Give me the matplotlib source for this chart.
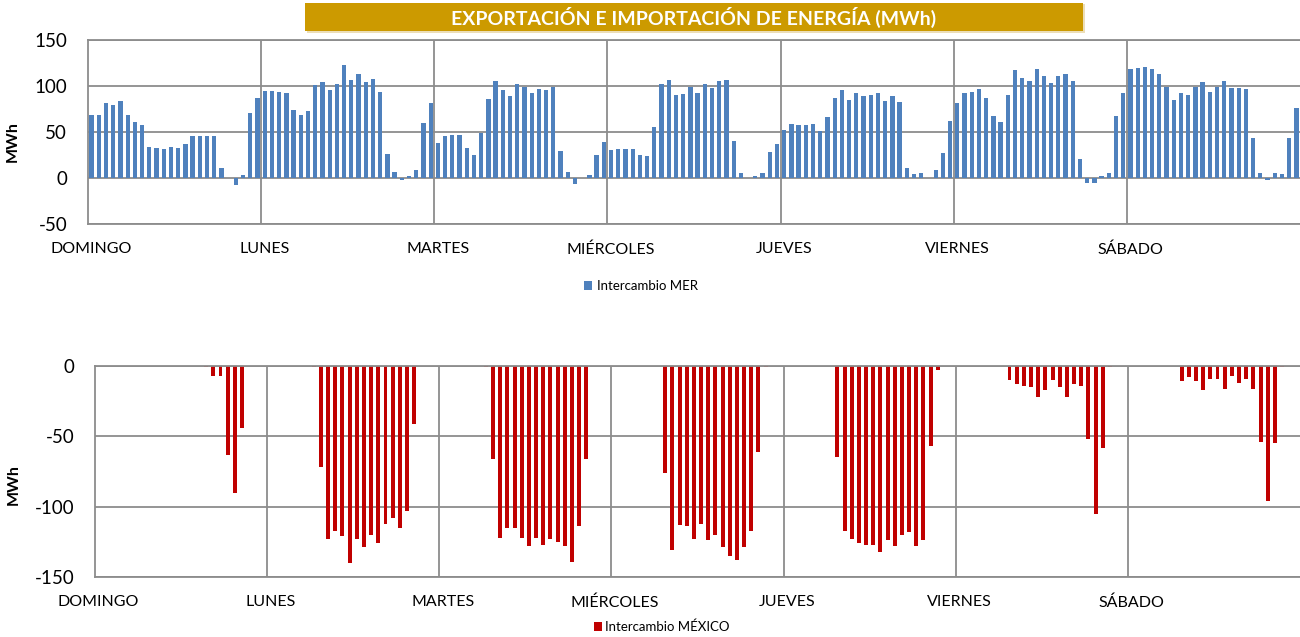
import numpy as np
import matplotlib.pyplot as plt
from matplotlib.patches import Rectangle

plt.rcParams['font.family'] = ['Lato', 'DejaVu Sans']
plt.rcParams['axes.unicode_minus'] = False

dias = ['DOMINGO', 'LUNES', 'MARTES', 'MIÉRCOLES', 'JUEVES', 'VIERNES', 'SÁBADO']

# intercambio MER por hora (MWh), un dia por lista
mer_dom = [68, 68, 82, 79, 84, 68, 61, 58, 34, 33, 32, 34, 33, 37, 46, 46, 46, 46, 11, 0, -8, 3, 71, 87]
mer_lun = [95, 95, 94, 92, 74, 68, 73, 101, 104, 96, 102, 123, 106, 113, 104, 108, 93, 26, 6, -2, 2, 9, 60, 81]
mer_mar = [38, 46, 47, 47, 33, 25, 49, 86, 105, 96, 89, 102, 99, 92, 97, 96, 99, 29, 7, -7, 0, 3, 25, 39]
mer_mie = [30, 31, 31, 31, 25, 24, 55, 102, 106, 90, 91, 99, 92, 102, 98, 105, 106, 40, 5, 0, 2, 5, 28, 37]
mer_jue = [52, 59, 58, 58, 59, 51, 66, 87, 96, 85, 92, 89, 90, 92, 84, 89, 83, 11, 4, 5, 0, 9, 27, 62]
mer_vie = [82, 92, 94, 97, 87, 67, 61, 90, 117, 109, 105, 118, 111, 103, 111, 113, 105, 21, -5, -5, 2, 5, 67, 92]
mer_sab = [119, 120, 121, 119, 113, 99, 85, 92, 90, 99, 104, 94, 99, 105, 98, 98, 97, 44, 5, -2, 5, 4, 43, 76]

# intercambio Mexico por hora (MWh)
mex_dom = [0, 0, 0, 0, 0, 0, 0, 0, 0, 0, 0, 0, 0, 0, 0, -1, -7, -7, -63, -90, -44, 0, 0, 0]
mex_lun = [0, 0, 0, 0, 0, 0, -1, -72, -123, -117, -121, -140, -123, -129, -120, -126, -112, -108, -115, -103, -41, 0, 0, 0]
mex_mar = [0, 0, 0, 0, 0, 0, -0.5, -66, -122, -115, -115, -122, -128, -122, -127, -123, -125, -128, -139, -114, -66, 0, 0, 0]
mex_mie = [0, 0, 0, 0, 0, 0, 0, -76, -131, -113, -114, -123, -112, -124, -120, -129, -135, -138, -129, -117, -61, -0.5, 0, 0]
mex_jue = [0, 0, 0, 0, 0, 0, 0, -65, -117, -123, -126, -127, -127, -132, -124, -128, -120, -118, -128, -124, -57, -3, 0, 0]
mex_vie = [0, 0, 0, 0, 0, 0, 0, -10, -13, -14, -15, -22, -17, -10, -15, -22, -13, -14, -52, -105, -58, -1, 0, 0]
mex_sab = [0, 0, 0, 0, 0, 0, 0, -11, -8, -11, -17, -9, -9, -16, -7, -12, -9, -16, -54, -96, -55, -1, 0, 0]

mer = mer_dom + mer_lun + mer_mar + mer_mie + mer_jue + mer_vie + mer_sab
mex = mex_dom + mex_lun + mex_mar + mex_mie + mex_jue + mex_vie + mex_sab
horas = np.arange(len(mer))

W, H = 1300, 637
fig = plt.figure(figsize=(W / 100, H / 100), dpi=100)

gris = '#8c8c8c'


def estilo(ax, ymin, ymax):
    ax.set_xlim(-0.5, len(horas) - 0.5)
    ax.set_ylim(ymin, ymax)
    ax.set_yticks(np.arange(ymin, ymax + 1, 50))
    ax.set_xticks(np.arange(0, len(horas), 24))
    ax.set_xticklabels(dias)
    ax.grid(axis='y', color=gris, lw=1.3)
    for k in range(1, 7):
        ax.axvline(24 * k - 0.5, color=gris, lw=1.3, zorder=0)
    ax.set_axisbelow(True)
    for s in ['left', 'top', 'bottom']:
        ax.spines[s].set_color(gris)
        ax.spines[s].set_linewidth(1.3)
    ax.spines['right'].set_visible(False)
    ax.tick_params(axis='y', length=0, labelsize=13.5, pad=15)
    ax.tick_params(axis='x', length=0, labelsize=11.5, pad=13)
    ax.set_ylabel('MWh', fontsize=11.5, fontweight='bold')


# grafico superior: MER
ax1 = fig.add_axes([88 / W, 1 - 224 / H, 1212 / W, 184 / H])
ax1.bar(horas, mer, width=0.6, color='#4F81BD', label='Intercambio MER')
estilo(ax1, -50, 150)
ax1.yaxis.set_label_coords(-0.056, 0.45)

# grafico inferior: Mexico
ax2 = fig.add_axes([95 / W, 1 - 577 / H, 1205 / W, 211 / H])
ax2.bar(horas, mex, width=0.55, color='#C00000', label='Intercambio MÉXICO')
estilo(ax2, -150, 0)
ax2.yaxis.set_label_coords(-0.062, 0.44)

fig.legend(*ax1.get_legend_handles_labels(), loc='center', bbox_to_anchor=(641 / W, 1 - 286 / H),
           frameon=False, fontsize=9.5, handlelength=0.6, handleheight=0.6, handletextpad=0.4)
fig.legend(*ax2.get_legend_handles_labels(), loc='center', bbox_to_anchor=(662 / W, 1 - 627 / H),
           frameon=False, fontsize=9.5, handlelength=0.6, handleheight=0.6, handletextpad=0.2)

# titulo en caja dorada
fig.patches.append(Rectangle((307 / W, 1 - 33 / H), 778 / W, 29 / H, transform=fig.transFigure,
                             facecolor='#e0c98a', edgecolor='none', alpha=0.6))
fig.patches.append(Rectangle((305 / W, 1 - 31 / H), 778 / W, 28 / H, transform=fig.transFigure,
                             facecolor='#CC9A00', edgecolor='none'))
fig.text(694 / W, 1 - 17 / H, 'EXPORTACIÓN E IMPORTACIÓN DE ENERGÍA (MWh)', color='white',
         fontsize=14, fontweight='bold', ha='center', va='center')

fig.savefig('out.png', dpi=100)
